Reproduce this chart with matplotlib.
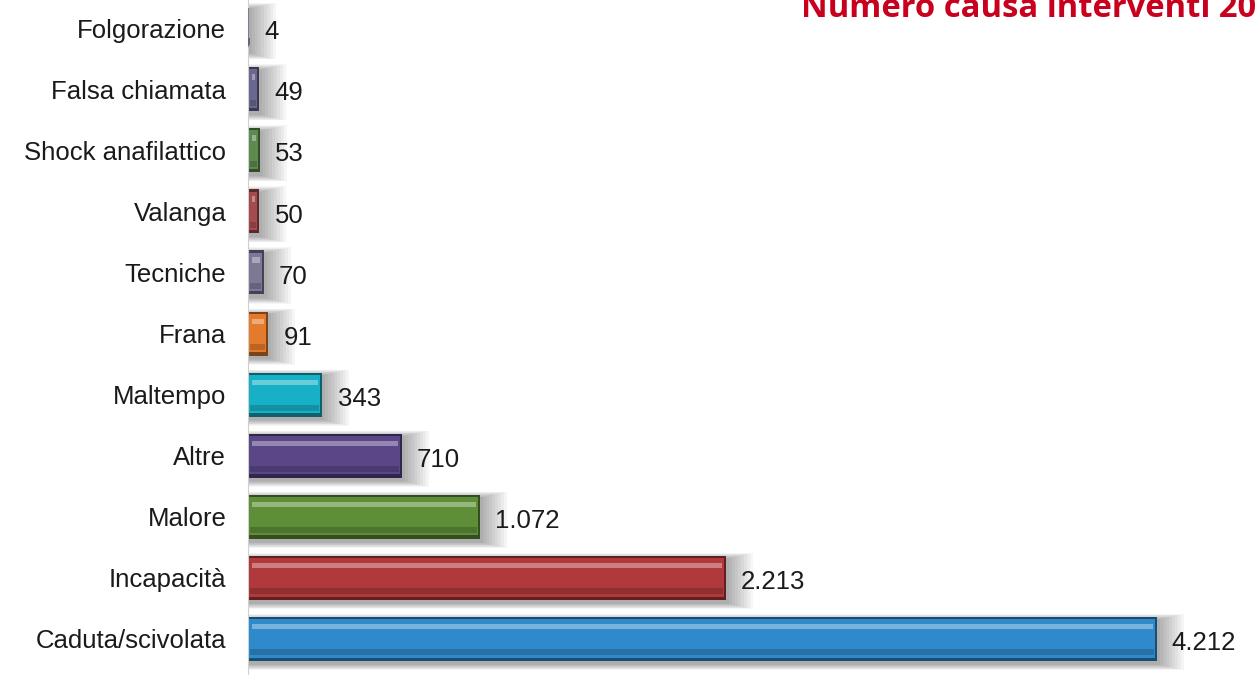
import numpy as np
import matplotlib.pyplot as plt
from matplotlib.colors import to_rgb

cause = ['Caduta/scivolata', 'Incapacità', 'Malore', 'Altre', 'Maltempo', 'Frana',
         'Tecniche', 'Valanga', 'Shock anafilattico', 'Falsa chiamata', 'Folgorazione']
numero = [4212, 2213, 1072, 710, 343, 91, 70, 50, 53, 49, 4]
colori = ['#2E8ACB', '#B0393B', '#5E8E38', '#5B4788', '#17B0C6', '#E47A2C',
          '#7C7896', '#A54B4E', '#5E8A50', '#6A6790', '#7A7A9A']


def shade(c, f):
    r = np.array(to_rgb(c))
    if f < 1:
        return tuple(r * f)
    return tuple(r + (1 - r) * (f - 1))


def fmt(v):
    return '{:,}'.format(v).replace(',', '.')


plt.rcParams['font.family'] = ['Liberation Sans', 'DejaVu Sans']

fig = plt.figure(figsize=(12.55, 6.75), dpi=100)
ax = fig.add_axes([0.198, 0.0, 0.80, 1.0])

xmax = 4657
y = np.arange(len(cause))
h = 0.72
upx = xmax / (0.80 * 1255)   # data units per pixel along x

# soft shadows
for k in range(9, 0, -1):
    ax.barh(y - 0.05, np.array(numero) + k * 3 * upx, height=h + k * 0.022,
            color='#000000', alpha=0.04, zorder=1, linewidth=0)

for i, v in enumerate(numero):
    c = colori[i]
    ax.barh(y[i], v, height=h, color=shade(c, 0.55), zorder=2, linewidth=0)
    ax.barh(y[i] + 0.01, v - 3 * upx, left=1 * upx, height=h - 0.09, color=c,
            zorder=3, linewidth=0)
    ax.barh(y[i] - 0.22, v - 5 * upx, left=2 * upx, height=0.1,
            color=shade(c, 0.82), zorder=4, linewidth=0)
    ax.barh(y[i] + 0.2, max(v - 8 * upx, 0), left=4 * upx, height=0.09,
            color=shade(c, 1.35), zorder=4, linewidth=0)
    ax.annotate(fmt(v), (v, y[i]), xytext=(11, -3), textcoords='offset points',
                va='center', ha='left', fontsize=18.5, color='#1A1A1A')

ax.set_xlim(0, xmax)
ax.set_ylim(-0.59, 10.46)
ax.set_yticks(y)
ax.set_yticklabels(cause, fontsize=18.5, color='#1A1A1A')
ax.tick_params(axis='y', length=0, pad=16)
ax.set_xticks([])
for s in ['top', 'right', 'bottom']:
    ax.spines[s].set_visible(False)
ax.spines['left'].set_color('#D0D0D0')
ax.set_facecolor('none')

# title is clipped by the right edge, as in the original picture
fig.text(0.638, 0.975, 'Numero causa interventi 2013', color='#C8001E',
         fontsize=23.6, fontweight='bold', family=['Open Sans', 'DejaVu Sans'],
         va='baseline', ha='left')

fig.savefig('out.png', dpi=100)
